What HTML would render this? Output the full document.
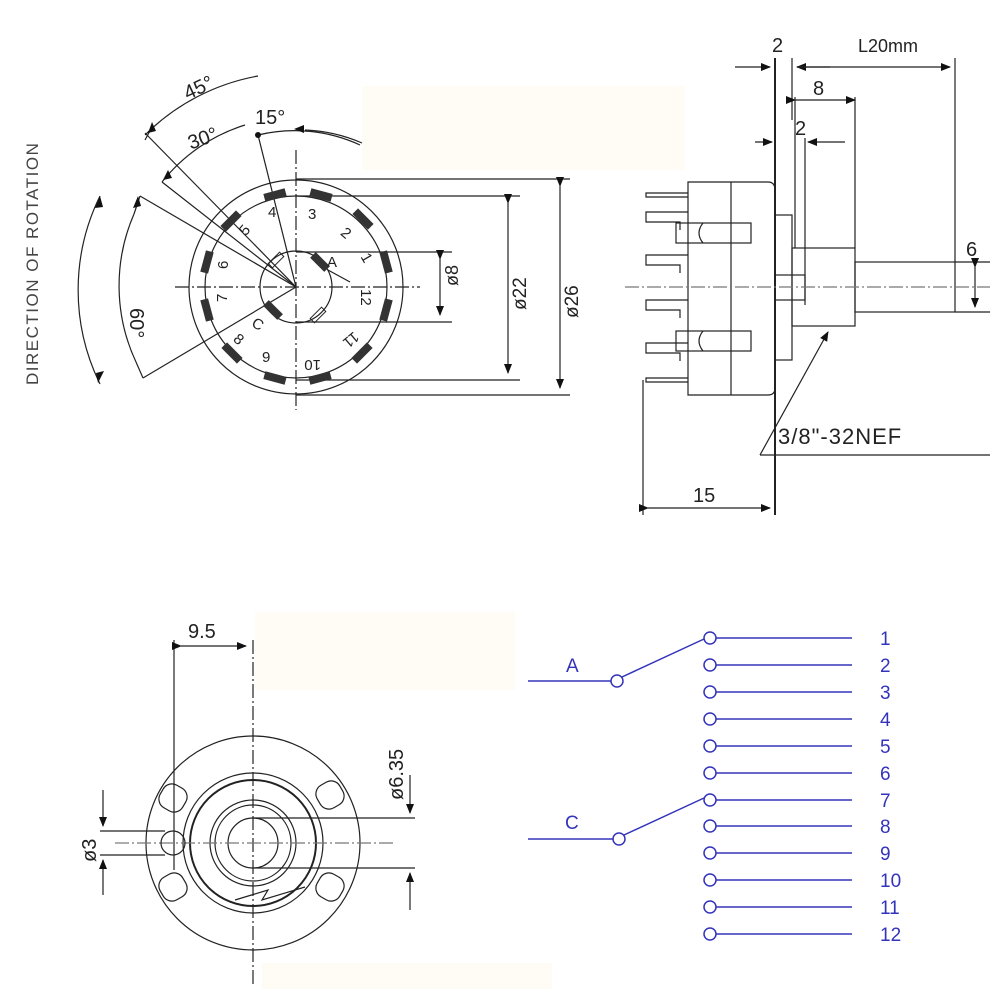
<!DOCTYPE html>
<html><head><meta charset="utf-8"><style>
html,body{margin:0;padding:0;background:#fff;}
svg{display:block;}
text{font-family:"Liberation Sans",sans-serif;}
</style></head><body>
<svg width="995" height="989" viewBox="0 0 995 989" xmlns="http://www.w3.org/2000/svg">
<defs>
<marker id="ar" markerWidth="10" markerHeight="8" refX="9" refY="4" orient="auto" markerUnits="userSpaceOnUse"><path d="M0,0 L10,4 L0,8 z" fill="#111"/></marker>
</defs>
<rect x="362" y="86" width="323" height="84" fill="#fefcf5"/>
<rect x="255" y="612" width="260" height="78" fill="#fefcf5"/>
<rect x="262" y="963" width="290" height="26" fill="#fefcf5"/>

<g stroke="#222" fill="none" stroke-width="1.2">
<circle cx="296" cy="287" r="107"/>
<circle cx="296" cy="287" r="91"/>
<circle cx="296" cy="287" r="36"/>
<line x1="175" y1="287" x2="420" y2="287" stroke-dasharray="14,3,2,3"/>
<line x1="296" y1="150" x2="296" y2="410" stroke-dasharray="14,3,2,3"/>
<line x1="296" y1="179" x2="570" y2="179"/><line x1="296" y1="395" x2="570" y2="395"/>
<line x1="296" y1="196" x2="520" y2="196"/><line x1="296" y1="380" x2="520" y2="380"/>
<line x1="296" y1="252" x2="452" y2="252"/><line x1="296" y1="322" x2="452" y2="322"/>
<line x1="560" y1="186" x2="560" y2="388" marker-start="url(#ar)" marker-end="url(#ar)"/>
<line x1="508" y1="203" x2="508" y2="373" marker-start="url(#ar)" marker-end="url(#ar)"/>
<line x1="440" y1="259" x2="440" y2="315" marker-start="url(#ar)" marker-end="url(#ar)"/>
<line x1="296" y1="287" x2="145" y2="133"/>
<line x1="296" y1="287" x2="162" y2="182"/>
<line x1="296" y1="287" x2="258" y2="135"/>
<line x1="296" y1="287" x2="140" y2="196"/>
<line x1="296" y1="287" x2="143" y2="378"/>
<path d="M145,135 A214,214 0 0 1 258,76" />
<path d="M162,182 A170,170 0 0 1 245,125"/>
<path d="M258,135 A156,156 0 0 1 360,145"/>
<path d="M305,130 A158,158 0 0 1 362,143" />
<path d="M100,196 A213,213 0 0 0 100,384"/>
<path d="M134,214 A180,180 0 0 0 136,362"/>
<line x1="145" y1="140" x2="152" y2="127" />
<line x1="134" y1="214" x2="140" y2="196" />
<line x1="136" y1="362" x2="143" y2="378" />
<line x1="350" y1="282" x2="328" y2="270" />
</g>
<circle cx="258" cy="135" r="3" fill="#111"/>
<path d="M148,133 l4,-11 l4,9z M163,180 l5,-10 l4,8z M304,125 l-10,4 l10,4z M138,196 l-5,12 l8,-2z M98,383 l6,-12 l-8,2z M100,196 l-5,12 l8,-1z" fill="#111"/>
<g fill="#333">
<rect x="-11" y="-4" width="22" height="8" transform="translate(321,195) rotate(15)"/>
<rect x="-11" y="-4" width="22" height="8" transform="translate(275,195) rotate(-15)"/>
<rect x="-11" y="-4" width="22" height="8" transform="translate(363,219) rotate(45)"/>
<rect x="-11" y="-4" width="22" height="8" transform="translate(231,221) rotate(-45)"/>
<rect x="-11" y="-4" width="22" height="8" transform="translate(386,262) rotate(75)"/>
<rect x="-11" y="-4" width="22" height="8" transform="translate(207,262) rotate(-75)"/>
<rect x="-11" y="-4" width="22" height="8" transform="translate(386,310) rotate(105)"/>
<rect x="-11" y="-4" width="22" height="8" transform="translate(207,310) rotate(-105)"/>
<rect x="-11" y="-4" width="22" height="8" transform="translate(362,353) rotate(135)"/>
<rect x="-11" y="-4" width="22" height="8" transform="translate(232,353) rotate(-135)"/>
<rect x="-11" y="-4" width="22" height="8" transform="translate(320,378) rotate(165)"/>
<rect x="-11" y="-4" width="22" height="8" transform="translate(275,378) rotate(-165)"/>
<rect x="-10" y="-4" width="20" height="8" transform="translate(320,262) rotate(45)"/>
<rect x="-10" y="-4" width="20" height="8" transform="translate(273,310) rotate(45)"/>
</g>
<g fill="none" stroke="#222"><rect x="-8" y="-3" width="16" height="6" transform="translate(276,260) rotate(-45)"/><rect x="-8" y="-3" width="16" height="6" transform="translate(318,315) rotate(-45)"/></g>
<g font-size="15" fill="#222">
<text x="268" y="217">4</text><text x="308" y="219">3</text><text x="343" y="239" transform="rotate(40 348 232)">2</text>
<text x="363" y="264" transform="rotate(60 368 258)">1</text><text x="327" y="267">A</text>
<text x="360" y="302" transform="rotate(90 367 296)">12</text><text x="340" y="348" transform="rotate(140 350 342)">11</text>
<text x="305" y="372" transform="rotate(180 313 366)">10</text><text x="262" y="362">9</text>
<text x="235" y="345" transform="rotate(40 240 339)">8</text><text x="253" y="329" transform="rotate(30 258 323)">C</text>
<text x="216" y="303" transform="rotate(-90 221 297)">7</text><text x="217" y="270" transform="rotate(-90 222 264)">6</text>
<text x="239" y="234" transform="rotate(-50 245 228)">5</text>
</g>
<g font-size="20" fill="#222">
<text x="184" y="96" transform="rotate(-25 195 90)">45°</text>
<text x="188" y="146" transform="rotate(-20 200 140)">30°</text>
<text x="255" y="124">15°</text>
<text x="0" y="0" transform="translate(130,308) rotate(90)">60°</text>
<text x="0" y="0" transform="translate(458,286) rotate(-90)" font-size="18">ø8</text>
<text x="0" y="0" transform="translate(526,310) rotate(-90)" font-size="19">ø22</text>
<text x="0" y="0" transform="translate(578,318) rotate(-90)" font-size="19">ø26</text>
<text x="0" y="0" transform="translate(38,385) rotate(-90)" font-size="17" letter-spacing="1.5" fill="#444">DIRECTION OF ROTATION</text>
</g>

<g stroke="#222" fill="none" stroke-width="1.2">
<line x1="775" y1="58" x2="775" y2="515" stroke-width="2"/>
<line x1="792" y1="58" x2="792" y2="120"/>
<line x1="735" y1="67" x2="770" y2="67" marker-end="url(#ar)"/>
<line x1="830" y1="67" x2="797" y2="67" marker-end="url(#ar)"/>
<line x1="797" y1="67" x2="950" y2="67" marker-end="url(#ar)"/>
<line x1="955" y1="58" x2="955" y2="262"/>
<line x1="795" y1="100" x2="855" y2="100" marker-start="url(#ar)" marker-end="url(#ar)"/>
<line x1="855" y1="97" x2="855" y2="248"/>
<line x1="795" y1="97" x2="795" y2="248"/>
<line x1="755" y1="142" x2="772" y2="142" marker-end="url(#ar)"/>
<line x1="845" y1="142" x2="808" y2="142" marker-end="url(#ar)"/>
<line x1="805" y1="138" x2="805" y2="305"/>
<path d="M688,182 H768 Q775,182 775,190 V388 Q775,395 768,395 H688 Z"/>
<line x1="731" y1="182" x2="731" y2="395"/>
<rect x="775" y="215" width="17" height="145"/>
<rect x="792" y="248" width="63" height="78"/>
<rect x="775" y="275" width="30" height="25"/>
<rect x="855" y="262" width="100" height="50"/>
<line x1="955" y1="262" x2="990" y2="262"/><line x1="955" y1="312" x2="990" y2="312"/>
<line x1="975" y1="267" x2="975" y2="307" marker-start="url(#ar)" marker-end="url(#ar)"/>
<line x1="625" y1="287" x2="990" y2="287" stroke-dasharray="14,3,2,3" stroke="#777"/>
<rect x="676" y="223" width="75" height="20"/><rect x="676" y="331" width="75" height="20"/>
<path d="M703,223 q-8,10 0,20 M703,331 q-8,10 0,20"/>
<path d="M688,193 H646 V197 H688 M688,212 H646 V222 H680 V230 M688,255 H646 V265 H680 V273 M688,300 H646 V310 H680 V318 M688,343 H646 V353 H680 V361 M688,378 H646 V382 H688"/>
<line x1="643" y1="380" x2="643" y2="515"/>
<line x1="648" y1="508" x2="770" y2="508" marker-start="url(#ar)" marker-end="url(#ar)"/>
<line x1="760" y1="455" x2="828" y2="332" marker-end="url(#ar)"/>
<line x1="760" y1="455" x2="990" y2="455"/>
</g>
<g font-size="20" fill="#222">
<text x="772" y="52">2</text><text x="858" y="52" font-size="18">L20mm</text>
<text x="813" y="95">8</text><text x="795" y="135">2</text>
<text x="966" y="256">6</text><text x="693" y="502">15</text>
<text x="778" y="444" font-size="22" letter-spacing="1">3/8"-32NEF</text>
<text x="188" y="638">9.5</text>
<text x="0" y="0" transform="translate(403,800) rotate(-90)">ø6.35</text>
<text x="0" y="0" transform="translate(96,862) rotate(-90)">ø3</text>
</g>

<g stroke="#222" fill="none" stroke-width="1.2">
<line x1="174" y1="640" x2="174" y2="870"/><line x1="253" y1="640" x2="253" y2="985" stroke-dasharray="14,3,2,3"/>
<line x1="181" y1="646" x2="246" y2="646" marker-start="url(#ar)" marker-end="url(#ar)"/>
<circle cx="253" cy="843" r="107"/>
<circle cx="253" cy="843" r="70"/>
<circle cx="253" cy="843" r="63" stroke-width="2"/>
<circle cx="253" cy="843" r="43"/>
<circle cx="253" cy="843" r="38"/>
<circle cx="253" cy="843" r="25"/>
<line x1="115" y1="843" x2="395" y2="843" stroke-dasharray="14,3,2,3" stroke="#777"/>
<rect x="160" y="785" width="26" height="26" rx="10" transform="rotate(30 173 798)"/>
<rect x="317" y="782" width="26" height="26" rx="10" transform="rotate(-30 330 795)"/>
<rect x="160" y="874" width="26" height="26" rx="10" transform="rotate(-30 173 887)"/>
<rect x="317" y="874" width="26" height="26" rx="10" transform="rotate(30 330 887)"/>
<circle cx="173" cy="843" r="12"/>
<line x1="100" y1="831" x2="165" y2="831"/><line x1="100" y1="855" x2="165" y2="855"/>
<line x1="103" y1="790" x2="103" y2="826" marker-end="url(#ar)"/>
<line x1="103" y1="895" x2="103" y2="860" marker-end="url(#ar)"/>
<line x1="253" y1="818" x2="415" y2="818"/><line x1="253" y1="868" x2="415" y2="868"/>
<line x1="410" y1="775" x2="410" y2="813" marker-end="url(#ar)"/>
<line x1="410" y1="910" x2="410" y2="873" marker-end="url(#ar)"/>
<path d="M235,900 L268,890 L262,900 L305,887"/>
</g>

<g stroke="#3333bb" fill="none" stroke-width="1.5">
<line x1="528" y1="681" x2="611" y2="681"/><circle cx="617" cy="681" r="6"/><line x1="622" y1="677" x2="704" y2="639"/>
<line x1="528" y1="839" x2="613" y2="839"/><circle cx="619" cy="839" r="6"/><line x1="624" y1="835" x2="704" y2="798"/>
<circle cx="710" cy="638" r="6"/><line x1="716" y1="638" x2="852" y2="638"/>
<circle cx="710" cy="665" r="6"/><line x1="716" y1="665" x2="852" y2="665"/>
<circle cx="710" cy="692" r="6"/><line x1="716" y1="692" x2="852" y2="692"/>
<circle cx="710" cy="719" r="6"/><line x1="716" y1="719" x2="852" y2="719"/>
<circle cx="710" cy="746" r="6"/><line x1="716" y1="746" x2="852" y2="746"/>
<circle cx="710" cy="773" r="6"/><line x1="716" y1="773" x2="852" y2="773"/>
<circle cx="710" cy="800" r="6"/><line x1="716" y1="800" x2="852" y2="800"/>
<circle cx="710" cy="826" r="6"/><line x1="716" y1="826" x2="852" y2="826"/>
<circle cx="710" cy="853" r="6"/><line x1="716" y1="853" x2="852" y2="853"/>
<circle cx="710" cy="880" r="6"/><line x1="716" y1="880" x2="852" y2="880"/>
<circle cx="710" cy="907" r="6"/><line x1="716" y1="907" x2="852" y2="907"/>
<circle cx="710" cy="934" r="6"/><line x1="716" y1="934" x2="852" y2="934"/>
</g>
<g fill="#3333bb" font-size="19">
<text x="566" y="672">A</text><text x="565" y="829">C</text>
<text x="880" y="645">1</text><text x="880" y="672">2</text><text x="880" y="699">3</text><text x="880" y="726">4</text>
<text x="880" y="753">5</text><text x="880" y="780">6</text><text x="880" y="807">7</text><text x="880" y="833">8</text>
<text x="880" y="860">9</text><text x="880" y="887">10</text><text x="880" y="914">11</text><text x="880" y="941">12</text>
</g>
</svg>
</body></html>
